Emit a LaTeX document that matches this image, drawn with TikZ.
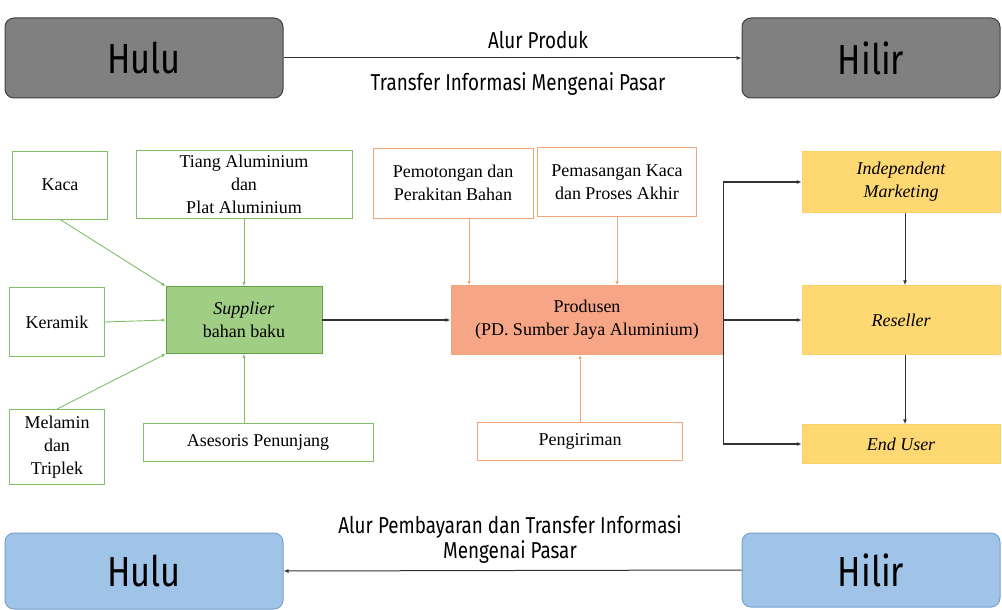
\documentclass[tikz,border=0pt]{standalone}
\usepackage{fontspec}
\setmainfont{Liberation Serif}
\newfontfamily\handfont{Fira Sans}
\usepackage{xcolor}
\usetikzlibrary{arrows,arrows.meta,positioning}
\definecolor{hulugray}{RGB}{128,128,128}
\definecolor{huluedge}{RGB}{64,64,64}
\definecolor{bluebox}{RGB}{160,196,232}
\definecolor{blueedge}{RGB}{120,160,205}
\definecolor{greenline}{RGB}{130,190,100}
\definecolor{greenfill}{RGB}{160,206,132}
\definecolor{greenedge}{RGB}{100,160,70}
\definecolor{orangeline}{RGB}{244,165,120}
\definecolor{orangefill}{RGB}{246,166,134}
\definecolor{yellowfill}{RGB}{253,216,115}
\definecolor{arrowgray}{RGB}{50,50,50}
\newcommand{\serifsize}{\fontsize{18}{23}\selectfont}
\newcommand{\handtext}[1]{\scalebox{0.82}[1]{#1}}

\begin{document}
\begin{tikzpicture}[x=1pt,y=-1pt,
    endbox/.style={draw=huluedge, line width=1pt, rounded corners=9pt, inner sep=0pt,
        font=\handfont\fontsize{42}{46}\selectfont},
    flowlabel/.style={font=\handfont\fontsize{23}{24}\selectfont, align=center, inner sep=0pt},
    greenbox/.style={draw=greenline, line width=0.9pt, inner sep=0pt, align=center, font=\serifsize},
    orangebox/.style={draw=orangeline, line width=0.9pt, inner sep=0pt, align=center, font=\serifsize},
    yellowbox/.style={fill=yellowfill, draw=yellowfill!90!orange, line width=0.4pt, inner sep=0pt,
        align=center, font=\serifsize\itshape, minimum width=198pt},
    greenarrow/.style={draw=greenline, line width=0.9pt, -{Latex[length=4pt,width=3.5pt]}},
    orangearrow/.style={draw=orangeline, line width=0.9pt, -{Latex[length=4pt,width=3.5pt]}},
    mainarrow/.style={draw=arrowgray, line width=1.3pt, -{Latex[length=5pt,width=4pt]}}]
    \useasboundingbox (0,0) rectangle (1002,610);
    % Hulu and Hilir (top)
    \node[endbox, fill=hulugray, minimum width=278pt, minimum height=80pt] (hulutop) at (144,58)
        {\handtext{Hulu}};
    \node[endbox, fill=hulugray, minimum width=258pt, minimum height=80pt] (hilirtop) at (871,58)
        {\handtext{Hilir}};
    \draw[mainarrow, line width=1pt] (hulutop.east) -- (hilirtop.west);
    \node[flowlabel] (alurproduk) at (538,40) {\handtext{Alur Produk}};
    \node[flowlabel] (transferinfo) at (518,84) {\handtext{Transfer Informasi Mengenai Pasar}};
    %
    % Bahan baku
    \node[greenbox, minimum width=95pt, minimum height=68pt] (kaca) at (60,185) {Kaca};
    \node[greenbox, minimum width=216pt, minimum height=68pt] (tiang) at (244,184)
        {Tiang Aluminium\\dan\\Plat Aluminium};
    \node[greenbox, minimum width=95pt, minimum height=69pt] (keramik) at (57,322) {Keramik};
    \node[greenbox, minimum width=95pt, minimum height=75pt] (melamin) at (57,447)
        {Melamin\\dan\\Triplek};
    \node[greenbox, minimum width=230pt, minimum height=38pt] (asesoris) at (258,442) {Asesoris Penunjang};
    \node[greenbox, draw=greenedge, fill=greenfill, minimum width=156pt, minimum height=67pt] (supplier)
        at (244,320) {\textit{Supplier}\\bahan baku};
    \draw[greenarrow] (kaca.south) -- (supplier.north west);
    \draw[greenarrow] (tiang.south) -- (supplier.north);
    \draw[greenarrow] (keramik.east) -- (supplier.west);
    \draw[greenarrow] (melamin.north) -- (supplier.south west);
    \draw[greenarrow] (asesoris.north -| supplier.south) -- (supplier.south);
    %
    % Produsen
    \node[orangebox, minimum width=160pt, minimum height=70pt] (pemotongan) at (453,183)
        {Pemotongan dan\\Perakitan Bahan};
    \node[orangebox, minimum width=159pt, minimum height=69pt] (pemasangan) at (617,182)
        {Pemasangan Kaca\\dan Proses Akhir};
    \node[orangebox, fill=orangefill, minimum width=272pt, minimum height=69pt] (produsen) at (587,320)
        {Produsen\\(PD. Sumber Jaya Aluminium)};
    \node[orangebox, minimum width=205pt, minimum height=38pt] (pengiriman) at (580,441) {Pengiriman};
    \draw[orangearrow] ([xshift=16pt]pemotongan.south) -- ([xshift=16pt]pemotongan.south |- produsen.north);
    \draw[orangearrow] (pemasangan.south) -- (pemasangan.south |- produsen.north);
    \draw[orangearrow] (pengiriman.north) -- (pengiriman.north |- produsen.south);
    \draw[mainarrow] (supplier.east) -- (produsen.west);
    %
    % Hilir side
    \node[yellowbox, minimum height=61pt] (indep) at (901,182) {Independent\\Marketing};
    \node[yellowbox, minimum height=69pt] (reseller) at (901,320) {Reseller};
    \node[yellowbox, minimum height=39pt] (enduser) at (901,444) {End User};
    \coordinate (trunktop) at (produsen.east |- indep.west);
    \coordinate (trunkbot) at (produsen.east |- enduser.west);
    \draw[arrowgray, line width=1.3pt] (trunktop) -- (trunkbot);
    \draw[mainarrow] (trunktop) -- (indep.west);
    \draw[mainarrow] (produsen.east) -- (reseller.west);
    \draw[mainarrow] (trunkbot) -- (enduser.west);
    \draw[mainarrow, line width=1pt] ([xshift=4pt]indep.south) -- ([xshift=4pt]reseller.north);
    \draw[mainarrow, line width=1pt] ([xshift=4pt]reseller.south) -- ([xshift=4pt]enduser.north);
    %
    % Hulu and Hilir (bottom)
    \node[endbox, draw=blueedge, fill=bluebox, minimum width=278pt, minimum height=76pt] (hulubot)
        at (144,571) {\handtext{Hulu}};
    \node[endbox, draw=blueedge, fill=bluebox, minimum width=258pt, minimum height=74pt] (hilirbot)
        at (871,570) {\handtext{Hilir}};
    \draw[mainarrow, line width=1pt] (hilirbot.west) -- (hulubot.east);
    \node[flowlabel] (alurbayar) at (510,541)
        {\handtext{\begin{tabular}{@{}c@{}}Alur Pembayaran dan Transfer Informasi\\Mengenai Pasar\end{tabular}}};
\end{tikzpicture}
\end{document}
